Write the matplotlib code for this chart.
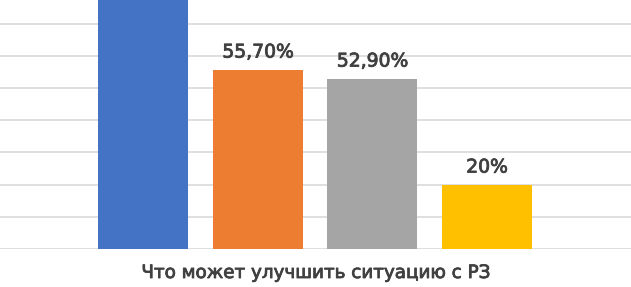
import matplotlib
matplotlib.use("Agg")
import matplotlib.pyplot as plt
import matplotlib.patheffects as pe

categories = ["A", "B", "C", "D"]
values = [80.0, 55.7, 52.9, 20.0]
labels = ["80%", "55,70%", "52,90%", "20%"]
colors = ["#4472C4", "#ED7D31", "#A5A5A5", "#FFC000"]
xlabel = "Что может улучшить ситуацию с РЗ"

plt.rcParams['font.family'] = ['DejaVu Sans']
fig = plt.figure(figsize=(6.31, 2.87), dpi=100)
ax = fig.add_axes([0, 38/287, 1, 249/287])
x = list(range(len(categories)))
ax.bar(x, values, width=0.786, color=colors, zorder=3)
ymax = 77.3
thick = [pe.withStroke(linewidth=0.6, foreground='#404040')]
for xi, v, lab in zip(x, values, labels):
    ty = v + 2.5
    if ty + 5 < ymax:
        ax.text(xi, ty, lab, ha='center', va='bottom', fontsize=13.5, color='#404040',
                zorder=4, path_effects=thick)
ax.set_xlim(-1.253, 4.258)
ax.set_ylim(0, ymax)
ax.set_yticks(range(0, 80, 10))
ax.yaxis.grid(True, color='#d9d9d9', linewidth=1.2, zorder=0)
for s in ax.spines.values():
    s.set_visible(False)
ax.tick_params(left=False, bottom=False, labelleft=False, labelbottom=False)
fig.text(316/631, 1 - 273/287, xlabel, ha='center', va='center', fontsize=13.2,
         color='#404040', path_effects=thick)
fig.savefig("out.png", dpi=100)
